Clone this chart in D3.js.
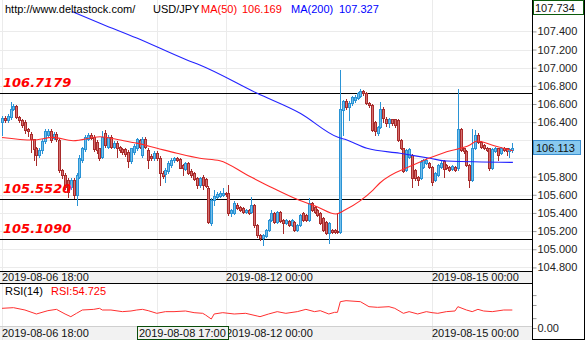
<!DOCTYPE html>
<html>
<head>
<meta charset="utf-8">
<script src="https://cdn.jsdelivr.net/npm/d3@7/dist/d3.min.js"></script>
<style>
  html, body { margin: 0; padding: 0; background: #fff; }
  svg { display: block; }
  text { font-family: "Liberation Sans", Arial, sans-serif; }
</style>
</head>
<body>
<svg id="chart" width="585" height="340"></svg>
<script>
// USD/JPY hourly candles, 2019-08-06 18:00 onwards (one entry per trading hour)
const opens = [106.40,106.45,106.42,106.46,106.55,106.58,106.46,106.42,106.40,106.33,
  106.27,106.21,106.11,106.04,106.09,106.19,106.26,106.30,106.23,106.27,
  106.20,105.87,105.82,105.76,105.69,105.76,105.60,105.80,105.98,106.10,
  106.22,106.26,106.24,106.18,106.11,106.02,106.28,106.13,106.24,106.13,
  106.17,106.13,106.10,106.10,106.07,105.97,106.07,106.11,106.20,106.04,
  106.22,106.09,106.03,106.00,106.06,106.01,105.84,105.83,105.86,105.93,
  105.98,106.00,105.99,105.93,105.88,105.95,105.86,105.84,105.78,105.71,
  105.80,105.77,105.67,105.29,105.54,105.58,105.59,105.60,105.62,105.62,
  105.40,105.40,105.49,105.47,105.45,105.41,105.43,105.41,105.49,105.27,
  105.16,105.12,105.15,105.21,105.32,105.40,105.30,105.41,105.32,105.29,
  105.31,105.27,105.30,105.21,105.27,105.40,105.38,105.32,105.51,105.47,
  105.43,105.40,105.34,105.30,105.18,105.21,105.21,105.20,105.19,106.53,
  106.63,106.57,106.61,106.64,106.67,106.69,106.74,106.72,106.61,106.59,
  106.40,106.28,106.35,106.55,106.44,106.39,106.43,106.43,106.42,106.20,
  106.11,105.87,106.02,106.04,105.87,105.80,105.78,105.91,105.95,105.95,
  105.91,105.76,105.82,105.91,105.97,105.93,105.91,105.88,105.91,105.89,
  106.33,106.11,106.08,105.93,105.76,106.11,106.26,106.18,106.15,106.12,
  106.11,105.89,106.08,106.11,106.06,106.12,106.11,106.08,106.09];
const highs = [106.47,106.47,106.49,106.62,106.60,106.59,106.47,106.44,106.42,106.34,
  106.29,106.22,106.13,106.11,106.21,106.33,106.32,106.32,106.29,106.29,
  106.22,105.88,105.84,105.78,105.78,105.78,105.84,106.04,106.13,106.26,
  106.28,106.28,106.26,106.20,106.12,106.30,106.31,106.26,106.26,106.19,
  106.19,106.14,106.12,106.12,106.09,106.12,106.16,106.23,106.22,106.24,
  106.24,106.11,106.05,106.08,106.08,106.03,105.86,105.89,105.97,106.00,
  106.02,106.02,106.00,105.94,105.96,105.96,105.88,105.85,105.80,105.80,
  105.82,105.78,105.70,105.56,105.65,105.63,105.64,105.67,105.63,105.71,
  105.44,105.53,105.51,105.48,105.46,105.44,105.44,105.58,105.50,105.28,
  105.17,105.17,105.22,105.33,105.43,105.41,105.42,105.42,105.33,105.33,
  105.32,105.33,105.31,105.28,105.39,105.41,105.39,105.56,105.52,105.48,
  105.44,105.41,105.35,105.31,105.30,105.22,105.22,105.40,106.975,106.64,
  106.65,106.63,106.69,106.70,106.73,106.76,106.75,106.73,106.62,106.60,
  106.41,106.36,106.62,106.57,106.46,106.45,106.44,106.44,106.43,106.21,
  106.12,106.10,106.11,106.05,105.88,105.81,105.98,105.99,106.00,105.96,
  105.92,105.85,105.94,105.97,105.98,105.94,105.92,105.93,105.92,106.762,
  106.34,106.12,106.09,105.94,106.33,106.31,106.28,106.19,106.16,106.13,
  106.12,106.11,106.13,106.12,106.13,106.13,106.12,106.11,106.174];
const lows = [106.26,106.40,106.40,106.44,106.53,106.45,106.40,106.35,106.28,106.25,
  106.07,105.98,105.93,106.02,106.06,106.17,106.24,106.18,106.21,106.19,
  105.85,105.78,105.66,105.58,105.66,105.56,105.49,105.78,105.96,106.08,
  106.20,106.21,106.08,106.06,105.98,106.00,106.13,106.11,106.11,106.11,
  106.02,106.07,106.05,106.03,105.91,105.95,106.05,106.09,106.11,106.02,
  106.11,105.89,105.98,105.98,105.98,105.71,105.78,105.74,105.84,105.91,
  105.96,105.97,105.89,105.82,105.87,105.83,105.80,105.76,105.67,105.69,
  105.66,105.69,105.29,105.27,105.49,105.56,105.58,105.59,105.59,105.38,
  105.37,105.39,105.44,105.42,105.40,105.40,105.39,105.40,105.25,105.14,
  105.10,105.05,105.14,105.20,105.31,105.29,105.29,105.30,105.18,105.28,
  105.26,105.26,105.20,105.20,105.26,105.31,105.31,105.31,105.42,105.40,
  105.37,105.28,105.20,105.17,105.07,105.18,105.18,105.18,105.18,106.26,
  106.55,106.42,106.59,106.62,106.65,106.68,106.70,106.60,106.57,106.30,
  106.26,106.26,106.34,106.40,106.36,106.35,106.37,106.35,106.19,106.10,
  105.85,105.86,106.00,105.69,105.76,105.71,105.77,105.90,105.94,105.90,
  105.71,105.75,105.81,105.90,105.80,105.88,105.86,105.87,105.86,105.87,
  106.08,106.06,105.92,105.69,105.75,106.10,106.17,106.12,106.10,106.08,
  105.87,105.88,106.07,105.98,106.05,106.08,106.04,106.02,106.07];
const closes = [106.45,106.42,106.47,106.55,106.58,106.46,106.42,106.37,106.31,106.30,
  106.21,106.10,106.04,106.09,106.19,106.30,106.30,106.20,106.27,106.22,
  105.87,105.82,105.69,105.63,105.76,105.60,105.82,106.00,106.11,106.24,
  106.26,106.23,106.10,106.09,106.00,106.24,106.15,106.24,106.13,106.17,
  106.11,106.09,106.07,106.05,105.97,106.11,106.14,106.21,106.13,106.22,
  106.13,105.98,106.00,106.06,106.00,105.84,105.81,105.87,105.95,105.98,
  106.00,105.98,105.90,105.89,105.95,105.84,105.82,105.77,105.71,105.78,
  105.71,105.70,105.30,105.54,105.59,105.61,105.62,105.62,105.61,105.40,
  105.43,105.51,105.45,105.43,105.41,105.43,105.40,105.49,105.27,105.16,
  105.12,105.16,105.21,105.32,105.40,105.30,105.41,105.31,105.29,105.32,
  105.27,105.32,105.21,105.27,105.38,105.32,105.32,105.51,105.43,105.41,
  105.38,105.29,105.21,105.18,105.29,105.19,105.19,105.19,106.54,106.63,
  106.57,106.61,106.68,106.68,106.72,106.74,106.72,106.61,106.59,106.31,
  106.30,106.35,106.55,106.45,106.39,106.43,106.39,106.37,106.20,106.11,
  105.86,106.09,106.10,105.78,105.78,105.76,105.96,105.98,105.98,105.91,
  105.74,105.84,105.93,105.95,105.88,105.89,105.87,105.92,105.87,106.33,
  106.09,106.08,105.93,105.76,106.11,106.26,106.18,106.13,106.11,106.09,
  105.89,106.10,106.11,106.04,106.12,106.09,106.08,106.10,106.113];

// Moving averages as [candle index, value]
const ma50 = [[0,106.231],[10.8,106.203],[17.8,106.233],[24.8,106.196],[34.2,106.240],
  [41.2,106.203],[47,106.169],[54.1,106.112],[61,106.057],[69,106.002],[76,105.975],
  [85.5,105.818],[93.5,105.689],[102.9,105.550],[109.9,105.468],[116.5,105.388],
  [119.6,105.432],[129.4,105.652],[131.8,105.730],[143.4,105.928],[155.1,106.074],
  [163.2,106.148],[165.7,106.192],[172,106.137],[178.2,106.085]];
const ma200 = [[24.4,107.62],[35,107.48],[47,107.327],[64.5,107.085],
  [69,107.03],[89,106.718],[104,106.498],[117.2,106.233],[119.6,106.211],
  [127.3,106.112],[138.8,106.057],[149.3,106.002],[155.2,105.972],[178.2,105.957]];

// RSI(14) readings as [candle index, value]
const rsi = [[0,59.8],[4,61.8],[8,54.7],[12,42.6],[16,52.7],[19,56.7],[22,42.6],[24,34.4],
  [26,44.6],[28,54.7],[32,56.7],[34,59.8],[35,54.7],[38,54.7],[42,49.7],[45,51.7],
  [47,54.725],[49,56.7],[51,52.7],[54,44.6],[57,49.7],[60,49.7],[64,51.7],[67,46.6],
  [70,44.6],[71,39.5],[73,27.3],[74,42.6],[77,46.6],[81,42.6],[85,44.6],[89,36.5],
  [90,34.4],[93,42.6],[96,49.7],[99,44.6],[103,49.7],[106,56.7],[109,49.7],[111,52.7],
  [114,42.6],[116,47.6],[117,47.6],[118,80.0],[120,83.1],[125,80.0],[128,64.8],
  [131,62.8],[135,64.8],[137,59.8],[140,44.6],[142,49.7],[145,42.6],[148,49.7],
  [150,46.6],[152,44.6],[155,49.7],[158,51.7],[159,64.8],[162,54.7],[164,49.7],
  [166,56.7],[168,51.7],[171,49.7],[175,54.7],[178,54.7]];

const levels = [106.7179, 105.5520, 105.1090];
const priceTicks = [104.8, 105.0, 105.2, 105.4, 105.6, 105.8, 106.0, 106.2, 106.4, 106.6, 106.8, 107.0, 107.2, 107.4];
const timeTicks = [{i: 0, label: "2019-08-06 18:00"}, {i: 54, label: ""},
  {i: 78, label: "2019-08-12 00:00"}, {i: 150, label: "2019-08-15 00:00"}];
const rsiTicks = [0, 30, 70, 100];
const lastPrice = 106.113, topPrice = 107.734;
const cursor = {i: 47, label: "2019-08-08 17:00", ma50: "106.169", ma200: "107.327", rsi: "54.725"};

const W = 585, H = 340, plotR = 532;
const mainTop = 0, mainBot = 271, rsiTop = 283, rsiBot = 326;

const svg = d3.select("#chart");
const x = d3.scaleLinear().domain([0, 178]).range([2, 2 + 178 * 2.867]);
const y = d3.scaleLinear().domain([104.8, 107.4]).range([267.4, 31.4]);
const yR = d3.scaleLinear().domain([0, 100]).range([328, 295.1]);
const px = v => Math.round(v) + 0.5;

const defs = svg.append("defs");
defs.append("clipPath").attr("id", "clipMain").append("rect")
  .attr("x", 0).attr("y", mainTop).attr("width", plotR).attr("height", mainBot - mainTop);
defs.append("clipPath").attr("id", "clipRsi").append("rect")
  .attr("x", 0).attr("y", rsiTop + 1).attr("width", plotR).attr("height", rsiBot - rsiTop - 1);

// grid
const grid = svg.append("g").attr("stroke", "#ebebeb").attr("stroke-width", 1);
grid.selectAll("line.h").data(priceTicks).join("line")
  .attr("x1", 0).attr("x2", plotR).attr("y1", d => px(y(d))).attr("y2", d => px(y(d)));
grid.selectAll("line.v").data(timeTicks).join("line")
  .attr("x1", d => px(x(d.i))).attr("x2", d => px(x(d.i))).attr("y1", 0).attr("y2", H);

// date bands
svg.append("rect").attr("x", 0).attr("y", mainBot).attr("width", plotR).attr("height", rsiTop - mainBot).attr("fill", "#f2f2f2");
svg.append("rect").attr("x", 0).attr("y", rsiBot).attr("width", plotR).attr("height", H - rsiBot).attr("fill", "#f2f2f2");
svg.selectAll("line.vb").data(timeTicks).join("line")
  .attr("stroke", "#e2e2e2")
  .attr("x1", d => px(x(d.i))).attr("x2", d => px(x(d.i))).attr("y1", mainBot).attr("y2", rsiTop);
svg.selectAll("line.vb2").data(timeTicks).join("line")
  .attr("stroke", "#e2e2e2")
  .attr("x1", d => px(x(d.i))).attr("x2", d => px(x(d.i))).attr("y1", rsiBot).attr("y2", H);

const main = svg.append("g").attr("clip-path", "url(#clipMain)");

// support / resistance levels
main.selectAll("line.lvl").data(levels).join("line")
  .attr("x1", 0).attr("x2", plotR).attr("y1", d => px(y(d))).attr("y2", d => px(y(d)))
  .attr("stroke", "#000").attr("stroke-width", 1);

// candles
const candles = d3.range(opens.length).map(i => ({i, o: opens[i], h: highs[i], l: lows[i], c: closes[i]}));
const upStroke = "#2a93d5", upFill = "#74bfeb", dnStroke = "#a82b2b", dnFill = "#d77070";
main.selectAll("line.wick").data(candles).join("line")
  .attr("x1", d => px(x(d.i))).attr("x2", d => px(x(d.i)))
  .attr("y1", d => Math.round(y(d.h))).attr("y2", d => Math.round(y(d.l)) + 1)
  .attr("stroke", d => d.c >= d.o ? upStroke : dnStroke);
main.selectAll("rect.body").data(candles).join("rect")
  .attr("x", d => Math.round(x(d.i)) - 0.5)
  .attr("width", 2)
  .attr("y", d => Math.round(y(Math.max(d.o, d.c))) + 0.5)
  .attr("height", d => Math.max(1, Math.round(y(Math.min(d.o, d.c))) - Math.round(y(Math.max(d.o, d.c)))))
  .attr("fill", d => d.c >= d.o ? upFill : dnFill)
  .attr("stroke", d => d.c >= d.o ? upStroke : dnStroke);

// moving averages
const maLine = d3.line().x(d => x(d[0])).y(d => y(d[1])).curve(d3.curveMonotoneX);
main.append("path").datum(ma200).attr("d", maLine).attr("fill", "none")
  .attr("stroke", "#2424ff").attr("stroke-width", 1.1);
main.append("path").datum(ma50).attr("d", maLine).attr("fill", "none")
  .attr("stroke", "#ff2a2a").attr("stroke-width", 1.1);

// level labels
svg.selectAll("text.lvl").data(levels).join("text")
  .attr("x", 3).attr("y", d => Math.round(y(d)) - 6)
  .attr("fill", "#ff0000")
  .style("font-family", "'DejaVu Sans', Verdana, sans-serif")
  .style("font-weight", "bold").style("font-style", "italic").style("font-size", "13px")
  .text(d => d.toFixed(4));

// header
const header = svg.append("g").style("font-size", "11px");
header.append("text").attr("x", 5).attr("y", 13).attr("fill", "#000").text("http://www.deltastock.com/");
header.append("text").attr("x", 153).attr("y", 13).attr("fill", "#000").text("USD/JPY");
header.append("text").attr("x", 201).attr("y", 13).attr("fill", "#ff0000").text("MA(50)");
header.append("text").attr("x", 242).attr("y", 13).attr("fill", "#ff0000").text(cursor.ma50);
header.append("text").attr("x", 291).attr("y", 13).attr("fill", "#0000ff").text("MA(200)");
header.append("text").attr("x", 339).attr("y", 13).attr("fill", "#0000ff").text(cursor.ma200);

// RSI panel
const rsiG = svg.append("g").attr("clip-path", "url(#clipRsi)");
rsiG.append("path").datum(rsi)
  .attr("d", d3.line().x(d => x(d[0])).y(d => yR(d[1])))
  .attr("fill", "none").attr("stroke", "#ff3030").attr("stroke-width", 1);
svg.append("text").attr("x", 5).attr("y", 295).style("font-size", "11px").attr("fill", "#000").text("RSI(14)");
svg.append("text").attr("x", 51).attr("y", 295).style("font-size", "11px").attr("fill", "#ff0000").text("RSI:" + cursor.rsi);

// panel borders
svg.append("line").attr("x1", 0).attr("x2", plotR).attr("y1", mainBot + 0.5).attr("y2", mainBot + 0.5).attr("stroke", "#000");
svg.append("line").attr("x1", 0).attr("x2", W).attr("y1", rsiTop + 0.5).attr("y2", rsiTop + 0.5).attr("stroke", "#000");
svg.append("line").attr("x1", 0).attr("x2", plotR).attr("y1", rsiBot + 0.5).attr("y2", rsiBot + 0.5).attr("stroke", "#cfcfcf");

// time labels
const tl = timeTicks.filter(d => d.label);
svg.selectAll("text.t1").data(tl).join("text")
  .attr("x", d => Math.round(x(d.i)) ).attr("y", 281).style("font-size", "11px").attr("fill", "#111").text(d => d.label);
svg.selectAll("text.t2").data(tl).join("text")
  .attr("x", d => Math.round(x(d.i)) ).attr("y", 337).style("font-size", "11px").attr("fill", "#111").text(d => d.label);

// cursor time box
const cx0 = Math.round(x(cursor.i));
svg.append("rect").attr("x", cx0 + 0.5).attr("y", rsiBot + 0.5).attr("width", 91).attr("height", H - rsiBot - 1)
  .attr("fill", "#f2f2f2").attr("stroke", "#0b4d0b");
svg.append("text").attr("x", cx0 + 2).attr("y", 337).style("font-size", "11px").attr("fill", "#111").text(cursor.label);

// right price axis
const axisG = svg.append("g").attr("transform", `translate(${plotR + 0.5},0)`);
axisG.append("rect").attr("x", 0).attr("y", 0).attr("width", W - plotR).attr("height", H).attr("fill", "#fff");
axisG.call(d3.axisRight(y).tickValues(priceTicks.filter(t => Math.abs(t - lastPrice) > 0.15))
  .tickFormat(d3.format(".3f")).tickSize(4).tickPadding(1))
  .call(g => g.select(".domain").remove())
  .call(g => g.selectAll("text").style("font-size", "11px").attr("fill", "#222").style("font-family", "'Liberation Sans', Arial, sans-serif"))
  .call(g => g.selectAll(".tick line").attr("stroke", "#999"));

// RSI axis
const rsiAxis = svg.append("g").attr("transform", `translate(${plotR + 0.5},0)`);
rsiAxis.call(d3.axisRight(yR).tickValues(rsiTicks).tickSize(4).tickPadding(1)
  .tickFormat(d => d === 0 ? "0.00" : ""))
  .call(g => g.select(".domain").remove())
  .call(g => g.selectAll("text").style("font-size", "11px").attr("fill", "#222").style("font-family", "'Liberation Sans', Arial, sans-serif"))
  .call(g => g.selectAll(".tick line").attr("stroke", "#999"));

svg.append("line").attr("x1", plotR + 0.5).attr("x2", plotR + 0.5).attr("y1", 0).attr("y2", H).attr("stroke", "#000");
svg.append("line").attr("x1", W - 0.5).attr("x2", W - 0.5).attr("y1", 0).attr("y2", H).attr("stroke", "#000");
svg.append("line").attr("x1", plotR).attr("x2", W).attr("y1", H - 0.5).attr("y2", H - 0.5).attr("stroke", "#000");

// last price and top price tags
const lp = Math.round(y(lastPrice));
svg.append("rect").attr("x", plotR + 1.5).attr("y", lp - 7.5).attr("width", 47).attr("height", 14)
  .attr("fill", "#88c9ef").attr("stroke", "#3b8fd0");
svg.append("text").attr("x", plotR + 4).attr("y", lp + 4).style("font-size", "11px").attr("fill", "#111").text(lastPrice.toFixed(3));
svg.append("rect").attr("x", plotR + 1.5).attr("y", 0.5).attr("width", W - plotR - 3).attr("height", 14)
  .attr("fill", "#fff").attr("stroke", "#0b5a0b");
svg.append("text").attr("x", plotR + 3).attr("y", 11.5).style("font-size", "11px").attr("fill", "#111").text(topPrice.toFixed(3));
</script>
</body>
</html>
